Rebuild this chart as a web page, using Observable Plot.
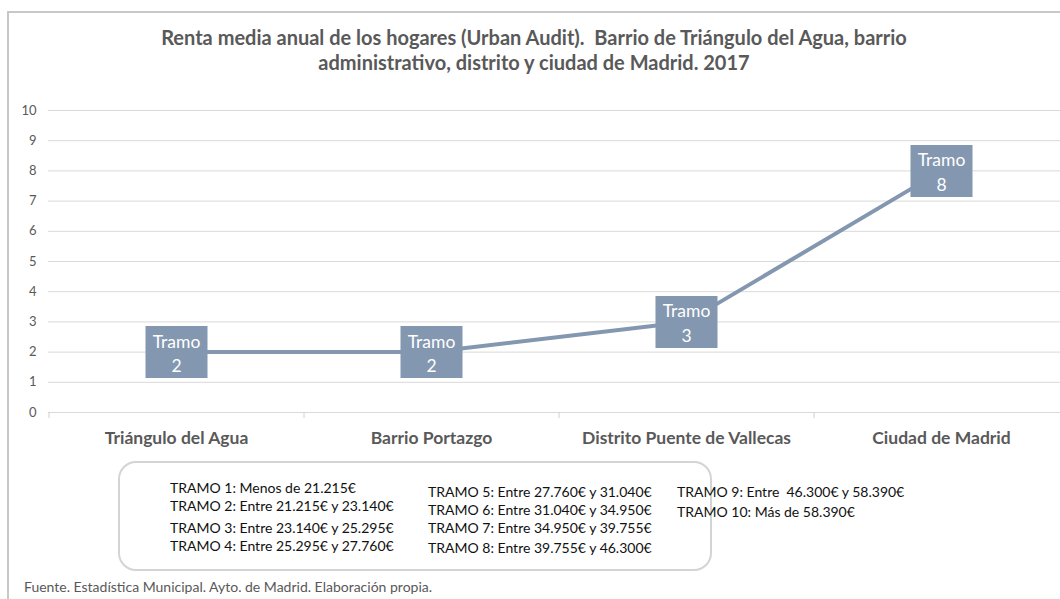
<!DOCTYPE html>
<html>
<head>
<meta charset="utf-8">
<script src="https://cdn.jsdelivr.net/npm/d3@7"></script>
<script src="https://cdn.jsdelivr.net/npm/@observablehq/plot@0.6"></script>
<style>
  html, body { margin: 0; padding: 0; background: #fff; }
  #wrap { position: relative; width: 1060px; height: 599px; overflow: hidden; font-family: Lato, "Open Sans", sans-serif; }
  #frame { position: absolute; left: 7px; top: 11px; width: 1100px; height: 650px; border: 2px solid #c8c8c8; box-sizing: border-box; }
  #title { position: absolute; left: 34px; width: 1000px; top: 25px; text-align: center; font-weight: bold; font-size: 20px; line-height: 25px; color: #595959; white-space: pre; }
  #chart { position: absolute; left: 0; top: 95px; }
  #legend { position: absolute; left: 118px; top: 461px; width: 594px; height: 110px; border: 2px solid #d4d4d4; border-radius: 18px; box-sizing: border-box; }
  .leg { position: absolute; font-size: 14px; color: #111; white-space: pre; line-height: 16px; }
  #caption { position: absolute; left: 24px; top: 578px; font-size: 14px; color: #595959; white-space: pre; }
</style>
</head>
<body>
<div id="wrap">
  <div id="frame"></div>
  <div id="title"></div>
  <div id="chart"></div>
  <div id="legend"></div>
  <div id="caption"></div>
</div>
<script>
const titleLines = [
  "Renta media anual de los hogares (Urban Audit).  Barrio de Triángulo del Agua, barrio",
  "administrativo, distrito y ciudad de Madrid. 2017"
];
const categories = ["Triángulo del Agua", "Barrio Portazgo", "Distrito Puente de Vallecas", "Ciudad de Madrid"];
const values = [2, 2, 3, 8];
const yTicks = [0, 1, 2, 3, 4, 5, 6, 7, 8, 9, 10];
const legendCol1 = [
  "TRAMO 1: Menos de 21.215€",
  "TRAMO 2: Entre 21.215€ y 23.140€",
  "TRAMO 3: Entre 23.140€ y 25.295€",
  "TRAMO 4: Entre 25.295€ y 27.760€"
];
const legendCol2 = [
  "TRAMO 5: Entre 27.760€ y 31.040€",
  "TRAMO 6: Entre 31.040€ y 34.950€",
  "TRAMO 7: Entre 34.950€ y 39.755€",
  "TRAMO 8: Entre 39.755€ y 46.300€"
];
const legendCol3 = [
  "TRAMO 9: Entre  46.300€ y 58.390€",
  "TRAMO 10: Más de 58.390€"
];
const caption = "Fuente. Estadística Municipal. Ayto. de Madrid. Elaboración propia.";

document.getElementById("title").innerHTML = titleLines.map(t => `<div>${t}</div>`).join("");
document.getElementById("caption").textContent = caption;

const legend = document.getElementById("legend");
function addCol(lines, left, tops) {
  lines.forEach((t, i) => {
    const d = document.createElement("div");
    d.className = "leg";
    d.style.left = left + "px";
    d.style.top = tops[i] + "px";
    d.textContent = t;
    legend.appendChild(d);
  });
}
// positions relative to legend box (left 118, top 461)
addCol(legendCol1, 50, [17, 35, 57, 75]);
addCol(legendCol2, 308, [21, 39, 57, 77]);
addCol(legendCol3, 557, [21, 41]);

const data = categories.map((c, i) => ({cat: c, value: values[i], label: "Tramo\n" + values[i]}));

const W = 1060, H = 360;
const xRange = [48, 1068];
const bw = (xRange[1] - xRange[0]) / categories.length;
const lineColor = "#8497b0";
const boxSymbol = { draw(ctx) { ctx.rect(-31, -26, 62, 52); } };

const chart = Plot.plot({
  width: W,
  height: H,
  marginTop: 15,
  marginBottom: 43,
  marginLeft: 48,
  marginRight: 0,
  style: { color: "#595959", fontFamily: "Lato, sans-serif", fontSize: "13px", background: "transparent", overflow: "visible" },
  x: { type: "point", domain: categories, range: xRange, padding: 0.5, axis: null },
  y: { domain: [0, 10], ticks: yTicks, tickSize: 0, tickPadding: 12, label: null, tickFormat: d => String(d) },
  marks: [
    Plot.ruleY(yTicks, { stroke: "#d9d9d9", strokeWidth: 1 }),
    Plot.ruleX(categories, { x: d => d, y1: 0, y2: 0, dx: -bw / 2, insetBottom: -6, stroke: "#d0d0d0" }),
    Plot.line(data, { x: "cat", y: "value", stroke: lineColor, strokeWidth: 4 }),
    Plot.dot(data, { x: "cat", y: "value", symbol: boxSymbol, r: 10, fill: lineColor, stroke: null }),
    Plot.text(data, { x: "cat", y: "value", text: "label", fill: "white", fontSize: 17.5, lineHeight: 1.4 }),
    Plot.text(categories, { x: d => d, y: () => 0, text: d => d, dy: 26, fontSize: 17.5, fontWeight: "bold", fill: "#595959" })
  ]
});
document.getElementById("chart").appendChild(chart);
</script>
</body>
</html>
